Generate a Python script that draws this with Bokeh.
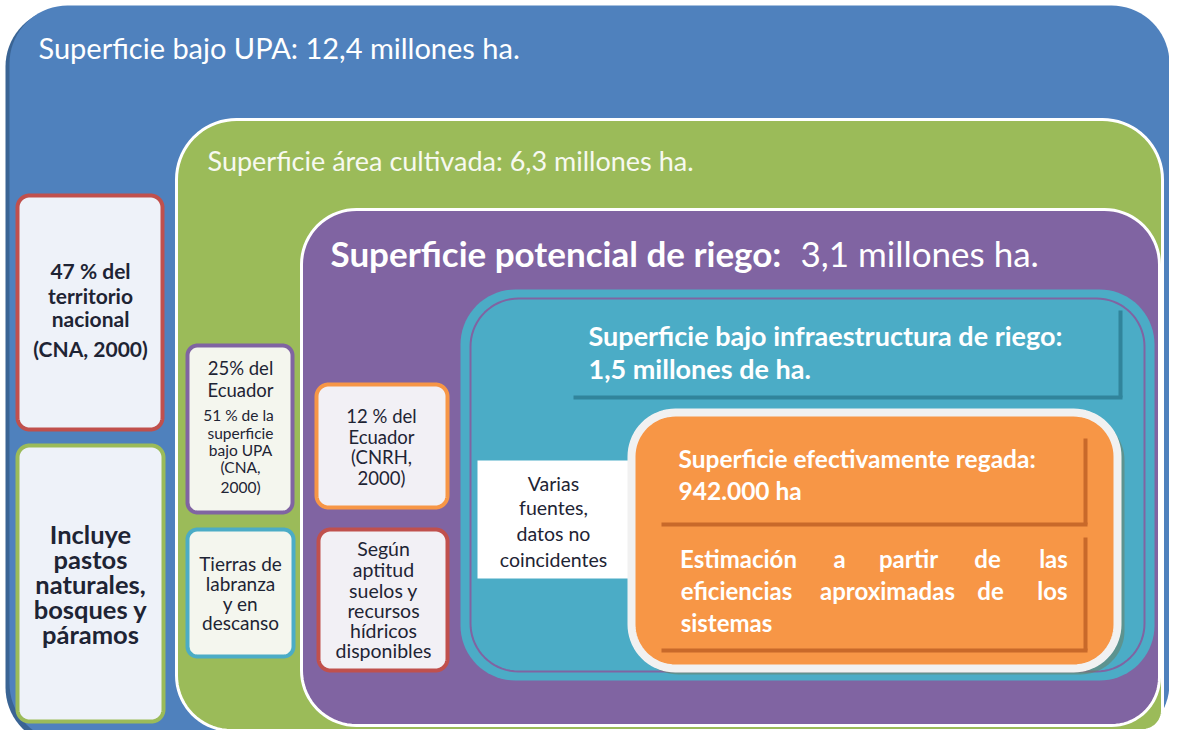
import math
from bokeh.plotting import figure
from bokeh.models import Range1d, ColumnDataSource
from bokeh.core.properties import value
from bokeh.embed import file_html
from bokeh.resources import INLINE

# ---------------- data (texts) ----------------
title_upa = "Superficie bajo UPA: 12,4 millones ha."
title_cultivada = "Superficie área cultivada: 6,3 millones ha."
title_potencial_bold = "Superficie potencial de riego:"
title_potencial_val = "3,1 millones ha."
infra_lines = ["Superficie bajo infraestructura de riego:", "1,5 millones de ha."]
regada_lines = ["Superficie efectivamente regada:", "942.000 ha"]
estim_words = [["Estimación", "a", "partir", "de", "las"],
               ["eficiencias", "aproximadas", "de", "los"],
               ["sistemas"]]
territorio_lines = ["47 % del", "territorio", "nacional", "(CNA, 2000)"]
incluye_lines = ["Incluye", "pastos", "naturales,", "bosques y", "páramos"]
ecuador25_lines = ["25% del", "Ecuador"]
upa51_lines = ["51  % de la", "superficie", "bajo UPA", "(CNA,", "2000)"]
tierras_lines = ["Tierras de", "labranza", "y en", "descanso"]
ecuador12_lines = ["12 % del", "Ecuador", "(CNRH,", "2000)"]
segun_lines = ["Según", "aptitud", "suelos y", "recursos", "hídricos", "disponibles"]
varias_lines = ["Varias", "fuentes,", "datos no", "coincidentes"]

# ---------------- styles ----------------
BLUE, BLUE_D = "#4F81BD", "#3A6494"
GREEN = "#9BBB59"
PURPLE = "#8064A2"
TEAL, TEAL_D = "#4BACC6", "#31849B"
ORANGE, ORANGE_D = "#F79646", "#C8692A"
RED = "#C0504D"
DARK = "#1E2434"
FONT = value("Lato")

W, H = 1169, 730
p = figure(width=W, height=H, x_range=Range1d(0, W), y_range=Range1d(H, 0),
           output_backend="svg", toolbar_location=None, min_border=0)
p.xaxis.visible = False
p.yaxis.visible = False
p.grid.visible = False
p.outline_line_color = None
p.background_fill_color = "white"
p.border_fill_color = "white"


def rr(x0, y0, x1, y1, r, n=18):
    if isinstance(r, (int, float)):
        r = (r, r, r, r)  # tl, tr, br, bl
    tl, tr, br, bl = r
    xs, ys = [], []
    corners = [((x0 + tl, y0 + tl), tl, math.pi, 1.5 * math.pi),
               ((x1 - tr, y0 + tr), tr, 1.5 * math.pi, 2 * math.pi),
               ((x1 - br, y1 - br), br, 0, 0.5 * math.pi),
               ((x0 + bl, y1 - bl), bl, 0.5 * math.pi, math.pi)]
    for (cx, cy), rad, a0, a1 in corners:
        for i in range(n + 1):
            t = a0 + (a1 - a0) * i / n
            xs.append(cx + rad * math.cos(t))
            ys.append(cy + rad * math.sin(t))
    return xs, ys


def box(x0, y0, x1, y1, r, fill, line=None, lw=0, alpha=1.0):
    xs, ys = rr(x0, y0, x1, y1, r)
    p.patch(xs, ys, fill_color=fill, fill_alpha=alpha,
            line_color=line, line_width=lw if line else 0)


def outline(x0, y0, x1, y1, r, line, lw):
    xs, ys = rr(x0, y0, x1, y1, r)
    p.line(xs + xs[:1], ys + ys[:1], line_color=line, line_width=lw)


def text_block(xs, ys, texts, size, color=DARK, style="normal", align="center"):
    src = ColumnDataSource(dict(x=xs, y=ys, t=texts))
    p.text(x="x", y="y", text="t", source=src, text_font=FONT, text_font_size=size,
           text_font_style=style, text_color=color, text_align=align, text_baseline="middle")


def lines_centered(cx, ys, texts, size, color=DARK, style="normal"):
    text_block([cx] * len(texts), ys, texts, size, color, style, "center")


def lines_left(x, ys, texts, size, color="white", style="normal"):
    text_block([x] * len(texts), ys, texts, size, color, style, "left")


# outer blue
box(5, 8, 1167, 745, 58, BLUE_D)
box(9, 5, 1169, 741, 58, BLUE)

# left column boxes
box(17, 195, 162, 429, 12, "#EEF2F9", RED, 4)
box(17, 445, 163, 721, 12, "#EEF2F9", GREEN, 4)

# green area
box(176, 119, 1162, 730, (60, 60, 20, 55), GREEN, "white", 3)
box(187, 345, 292, 512, 10, "#F4F6EE", PURPLE, 4)
box(187, 529, 293, 656, 10, "#F4F6EE", TEAL, 4)

# purple area
box(301, 209, 1159, 725, (55, 55, 48, 55), PURPLE, "white", 3)
box(316, 384, 447, 507, 12, "#F2F0F5", ORANGE, 4)
box(318, 529, 447, 670, 12, "#F2F0F5", RED, 4)

# teal area
box(460, 289, 1154, 680, 55, TEAL)
outline(470, 298, 1144, 671, 48, PURPLE, 2)
p.segment(x0=[573, 1120], y0=[397, 310], x1=[1122, 1120], y1=[397, 397], line_color=TEAL_D, line_width=4)

# white note
p.quad(left=[477], right=[628], top=[460], bottom=[578], fill_color="white", line_color=None)

# orange area
box(634, 416, 1124, 674, 44, "#6E7F62", alpha=0.55)
box(631, 412, 1117, 668, 44, ORANGE, "#F1F1F1", 8)
p.segment(x0=[661, 1085, 661, 1085], y0=[524, 438, 650, 537], x1=[1087, 1085, 1087, 1085],
          y1=[524, 524, 650, 650], line_color=ORANGE_D, line_width=4)

# ---------------- texts ----------------
lines_left(38, [47], [title_upa], "29px")
lines_left(207, [160], [title_cultivada], "27px", color="#F7F9F0")
lines_left(330, [252], [title_potencial_bold], "35px", style="bold")
lines_left(800, [252], [title_potencial_val], "35px")
lines_left(588, [335, 368], infra_lines, "27px", style="bold")
lines_left(678, [458, 490], regada_lines, "24.5px", style="bold")

# justified block (word centres)
est_cx = [[738, 839, 908, 987, 1053], [736, 887, 990, 1052], [726]]
est_y = [558, 590, 622]
for ws, xs, y in zip(estim_words, est_cx, est_y):
    text_block(xs, [y] * len(ws), ws, "24px", color="white", style="bold", align="center")

lines_centered(90, [270, 295, 318, 348], territorio_lines, "21px", style="bold")
lines_centered(90, [533, 558, 583, 608, 633], incluye_lines, "25.5px", style="bold")
lines_centered(240, [367, 389], ecuador25_lines, "18.5px")
lines_centered(240, [414, 432, 449, 466, 486], upa51_lines, "15.5px")
lines_centered(240, [563, 583, 603, 622], tierras_lines, "19px")
lines_centered(381, [415, 436, 456, 477], ecuador12_lines, "18.5px")
lines_centered(383, [548, 569, 590, 610, 630, 650], segun_lines, "19.5px")
lines_centered(553, [483, 507, 533, 559], varias_lines, "19.5px")

open("out.html", "w").write(file_html(p, INLINE))
